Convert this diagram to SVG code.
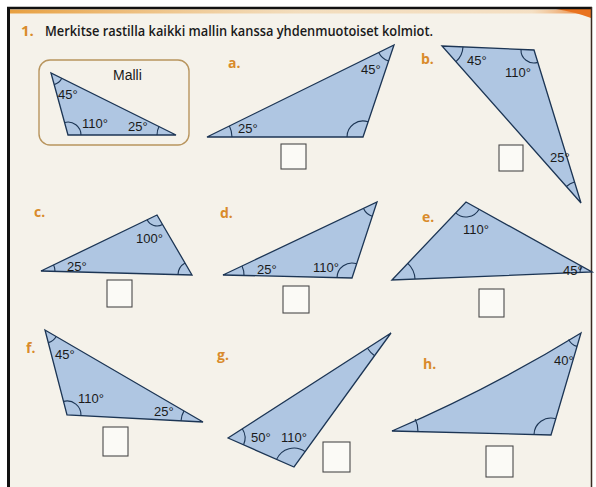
<svg xmlns="http://www.w3.org/2000/svg" width="596" height="487" viewBox="0 0 596 487">
<defs>
<linearGradient id="topStrip" x1="0" y1="0" x2="1" y2="0">
<stop offset="0" stop-color="#e8a040"/>
<stop offset="0.5" stop-color="#f0c890" stop-opacity="0.5"/>
<stop offset="0.9" stop-color="#f3c48a" stop-opacity="0.4"/>
<stop offset="1" stop-color="#e8701c"/>
</linearGradient>
<style>
.tri{fill:#afc6e2;stroke:#1c3554;stroke-width:1.3;stroke-linejoin:miter}
.arc{fill:none;stroke:#1c3554;stroke-width:1.1}
.deg{font-family:"Liberation Sans",Arial,sans-serif;font-size:13px;fill:#1a1a1a}
.let{font-family:"Open Sans","Liberation Sans",sans-serif;font-size:14px;font-weight:700;fill:#d98b2b}
.box{fill:#fbfaf6;stroke:#4a4a4a;stroke-width:1.1}
</style>
</defs>
<rect x="0" y="0" width="596" height="487" fill="#ffffff"/>
<rect x="9" y="8" width="582" height="479" fill="#f5f2ea"/>
<rect x="10" y="9.5" width="580" height="4" fill="url(#topStrip)"/>
<path d="M556,9 L591,9 L591,18 Q575,12 556,9 Z" fill="#e9731f"/>
<line x1="8.5" y1="7" x2="8.5" y2="487" stroke="#111" stroke-width="3"/>
<line x1="7" y1="8" x2="592" y2="8" stroke="#111" stroke-width="2.5"/>
<line x1="591.5" y1="7" x2="591.5" y2="487" stroke="#3a2a22" stroke-width="1.5"/>

<g id="title">
<text x="21" y="36" class="let" style="font-size:15px">1.</text>
<text x="45" y="36" font-family="'Open Sans','Liberation Sans',sans-serif" font-size="14" font-weight="600" fill="#1a1a1a" textLength="388" lengthAdjust="spacingAndGlyphs">Merkitse rastilla kaikki mallin kanssa yhdenmuotoiset kolmiot.</text>
</g>

<g id="malli">
<rect x="39" y="60" width="150" height="85" rx="11" ry="11" fill="none" stroke="#b8955e" stroke-width="1.4"/>
<text x="113" y="80" class="deg" style="font-size:14px">Malli</text>
<polygon class="tri" points="51,73 68,135 176,135"/>
<path class="arc" d="M54.2,84.6 A12,12 0 0 0 61.8,78.3"/>
<path class="arc" d="M64.6,122.5 A13,13 0 0 1 81,135"/>
<path class="arc" d="M157,135 A19,19 0 0 1 159,126.6"/>
<text x="58" y="99" class="deg">45°</text>
<text x="82" y="128" class="deg">110°</text>
<text x="128" y="131" class="deg">25°</text>
</g>

<g id="a">
<text x="228" y="68" class="let">a.</text>
<polygon class="tri" points="207,137 363,137 394,45"/>
<path class="arc" d="M232,137 A25,25 0 0 0 229.4,126"/>
<path class="arc" d="M347,137 A16,16 0 0 1 368.1,121.8"/>
<path class="arc" d="M378.7,52.5 A17,17 0 0 0 388.6,61.1"/>
<text x="361" y="73.5" class="deg">45°</text>
<text x="238" y="132.5" class="deg">25°</text>
<rect class="box" x="281" y="144" width="25" height="25"/>
</g>

<g id="b">
<text x="421" y="64" class="let">b.</text>
<polygon class="tri" points="442,46 534,50 581,203"/>
<path class="arc" d="M463,46.9 A21,21 0 0 1 455.9,61.7"/>
<path class="arc" d="M521,49.4 A13,13 0 0 0 537.8,62.4"/>
<path class="arc" d="M566.4,186.5 A22,22 0 0 1 574.5,182"/>
<text x="467" y="64.5" class="deg">45°</text>
<text x="505" y="76.5" class="deg">110°</text>
<text x="550" y="161.5" class="deg">25°</text>
<rect class="box" x="499" y="145" width="24" height="26"/>
</g>

<g id="c">
<text x="34" y="217" class="let">c.</text>
<polygon class="tri" points="41,271 157,215 192,275"/>
<path class="arc" d="M53.6,264.9 A14,14 0 0 1 55,271.4"/>
<path class="arc" d="M147.1,219.8 A11,11 0 0 0 162.5,224.5"/>
<path class="arc" d="M185,262.9 A14,14 0 0 0 178,274.6"/>
<text x="136" y="242.5" class="deg">100°</text>
<text x="67" y="270.5" class="deg">25°</text>
<rect class="box" x="107" y="280" width="25" height="27"/>
</g>

<g id="d">
<text x="220" y="218" class="let">d.</text>
<polygon class="tri" points="223,275 352,278 377,202"/>
<path class="arc" d="M244,275.5 A21,21 0 0 0 242,266"/>
<path class="arc" d="M337,277.7 A15,15 0 0 1 356.7,263.8"/>
<path class="arc" d="M363.5,208.4 A15,15 0 0 0 372.3,216.2"/>
<text x="257" y="273.5" class="deg">25°</text>
<text x="313" y="271.5" class="deg">110°</text>
<rect class="box" x="283" y="286" width="26" height="27"/>
</g>

<g id="e">
<text x="422" y="222" class="let">e.</text>
<polygon class="tri" points="392,280 466,202 592,272"/>
<path class="arc" d="M407.8,263.3 A23,23 0 0 1 415,279.1"/>
<path class="arc" d="M455.7,212.9 A15,15 0 0 0 479.1,209.3"/>
<path class="arc" d="M581.4,266.6 A11,11 0 0 0 580,272.4"/>
<text x="463" y="233.5" class="deg">110°</text>
<text x="563" y="274.5" class="deg">45°</text>
<rect class="box" x="479" y="289" width="25" height="28"/>
</g>

<g id="f">
<text x="26" y="353" class="let">f.</text>
<polygon class="tri" points="45,330 67,415 203,422"/>
<path class="arc" d="M48.3,342.6 A13,13 0 0 0 56.2,336.5"/>
<path class="arc" d="M63.5,401.4 A14,14 0 0 1 81,415.7"/>
<path class="arc" d="M181,420.9 A22,22 0 0 1 184,410.9"/>
<text x="55" y="358.5" class="deg">45°</text>
<text x="78" y="402.5" class="deg">110°</text>
<text x="154" y="415.5" class="deg">25°</text>
<rect class="box" x="103" y="427" width="25" height="29"/>
</g>

<g id="g">
<text x="217" y="360" class="let">g.</text>
<polygon class="tri" points="228,438 391,333 294,467"/>
<path class="arc" d="M242.3,428.8 A17,17 0 0 1 243.6,444.8"/>
<path class="arc" d="M276.6,459.4 A19,19 0 0 1 305.1,451.6"/>
<path class="arc" d="M367.5,348.2 A28,28 0 0 0 374.6,355.7"/>
<text x="251" y="441.5" class="deg">50°</text>
<text x="281" y="441.5" class="deg">110°</text>
<rect class="box" x="323" y="442" width="27" height="30"/>
</g>

<g id="h">
<text x="423" y="369" class="let">h.</text>
<path class="tri" d="M392,431 L551,435 L581,333 Q490,389 392,431 Z"/>
<path class="arc" d="M418,431.7 A26,26 0 0 0 415.1,419"/>
<path class="arc" d="M534,434.6 A17,17 0 0 1 555.8,418.7"/>
<path class="arc" d="M568.6,339.4 A14,14 0 0 0 577,346.4"/>
<text x="554" y="364.5" class="deg">40°</text>
<rect class="box" x="486" y="446" width="27" height="31"/>
</g>
</svg>
